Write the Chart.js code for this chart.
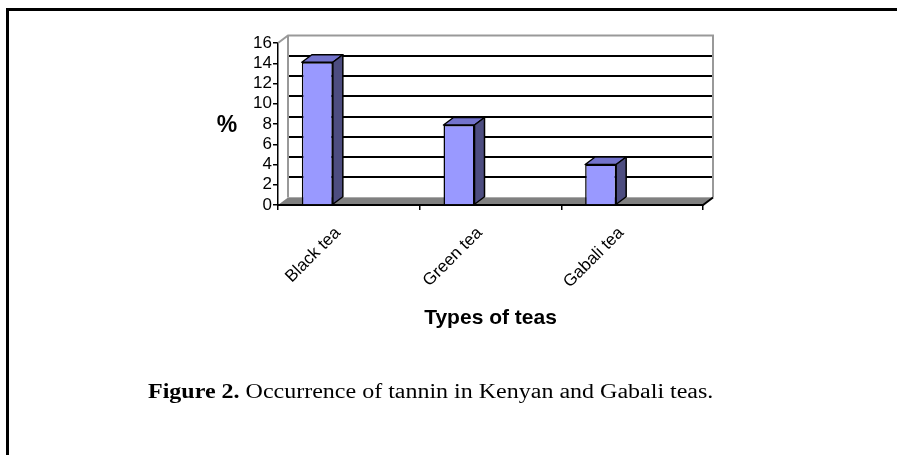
<!DOCTYPE html>
<html><head><meta charset="utf-8">
<script src="https://cdn.jsdelivr.net/npm/chart.js@4.4.0/dist/chart.umd.min.js"></script>
<style>
html,body{margin:0;padding:0;background:#fff;width:897px;height:455px;overflow:hidden;}
#frame{position:absolute;left:6px;top:8px;width:900px;height:460px;border-top:3px solid #000;border-left:3px solid #000;box-sizing:border-box;}
#wrap{position:absolute;left:0;top:0;width:897px;height:455px;}
#caption{position:absolute;left:148px;top:379px;font-family:"Liberation Serif","Times New Roman",serif;font-size:20px;color:#000;white-space:nowrap;transform:scaleX(1.2);transform-origin:0 0;line-height:24px;}
</style></head><body>
<div id="frame"></div>
<div id="wrap"><canvas id="c" width="897" height="455"></canvas></div>
<div id="caption"><b>Figure 2.</b> Occurrence of tannin in Kenyan and Gabali teas.</div>
<script>
const categories = ["Black tea", "Green tea", "Gabali tea"];
const tanninPercent = [14.1, 7.9, 4.0];
const yTicks = [0, 2, 4, 6, 8, 10, 12, 14, 16];
const xTitle = "Types of teas";
const yTitle = "%";

const FONT = '"Liberation Sans", Arial, sans-serif';
const DX = 10, DY = -7.5, BAR_SHIFT = -31.5;

function line(ctx, x0, y0, x1, y1) { ctx.beginPath(); ctx.moveTo(x0, y0); ctx.lineTo(x1, y1); ctx.stroke(); }

const threeD = {
  id: 'threeD',
  beforeDatasetsDraw(chart) {
    const ctx = chart.ctx, a = chart.chartArea, y = chart.scales.y;
    const bx0 = a.left + DX, bx1 = a.right + DX, by0 = a.top + DY, by1 = a.bottom + DY;
    ctx.save();
    ctx.fillStyle = '#fff';
    ctx.fillRect(bx0, by0, bx1 - bx0, by1 - by0);
    ctx.strokeStyle = '#000'; ctx.lineWidth = 2;
    yTicks.forEach(v => {
      if (v === yTicks[0] || v === yTicks[yTicks.length - 1]) return;
      const py = Math.round(y.getPixelForValue(v) + DY);
      line(ctx, bx0, py, bx1, py);
    });
    ctx.strokeStyle = '#999'; ctx.lineWidth = 2;
    ctx.beginPath();
    ctx.moveTo(a.left, a.top); ctx.lineTo(bx0, by0); ctx.lineTo(bx1, by0); ctx.lineTo(bx1, by1);
    ctx.stroke();
    line(ctx, bx0, by0, bx0, by1);
    ctx.fillStyle = '#808080';
    ctx.beginPath();
    ctx.moveTo(a.left, a.bottom); ctx.lineTo(bx0, by1); ctx.lineTo(bx1, by1); ctx.lineTo(a.right, a.bottom);
    ctx.closePath(); ctx.fill();
    ctx.strokeStyle = '#aaa'; ctx.lineWidth = 1;
    line(ctx, bx0, by1, bx1, by1);
    ctx.strokeStyle = '#000'; ctx.lineWidth = 2;
    ctx.beginPath();
    ctx.moveTo(a.left, a.bottom); ctx.lineTo(a.right, a.bottom); ctx.lineTo(bx1, by1);
    ctx.stroke();
    ctx.restore();
    ctx.save();
    ctx.translate(BAR_SHIFT, 0);
  },
  afterDatasetsDraw(chart) {
    const ctx = chart.ctx;
    const meta = chart.getDatasetMeta(0);
    ctx.lineWidth = 1.5; ctx.strokeStyle = '#000'; ctx.lineJoin = 'round';
    meta.data.forEach(bar => {
      const p = bar.getProps(['x', 'y', 'base', 'width'], true);
      const l = p.x - p.width / 2, r = p.x + p.width / 2;
      ctx.fillStyle = '#7373cc';
      ctx.beginPath();
      ctx.moveTo(l, p.y); ctx.lineTo(l + DX, p.y + DY); ctx.lineTo(r + DX, p.y + DY); ctx.lineTo(r, p.y);
      ctx.closePath(); ctx.fill(); ctx.stroke();
      ctx.fillStyle = '#4d4d80';
      ctx.beginPath();
      ctx.moveTo(r, p.y); ctx.lineTo(r + DX, p.y + DY); ctx.lineTo(r + DX, p.base + DY); ctx.lineTo(r, p.base);
      ctx.closePath(); ctx.fill(); ctx.stroke();
    });
    ctx.restore();
  },
  afterDraw(chart) {
    const ctx = chart.ctx;
    ctx.save();
    ctx.fillStyle = '#000';
    ctx.font = 'bold 23px ' + FONT;
    ctx.textAlign = 'center'; ctx.textBaseline = 'middle';
    ctx.fillText(yTitle, 227, 126);
    ctx.restore();
  }
};

new Chart(document.getElementById('c'), {
  type: 'bar',
  data: {
    labels: categories,
    datasets: [{
      data: tanninPercent,
      backgroundColor: '#9999ff',
      borderColor: '#000',
      borderWidth: 1.5,
      categoryPercentage: 1,
      barPercentage: 0.219,
      clip: false
    }]
  },
  options: {
    responsive: false,
    animation: false,
    devicePixelRatio: 1,
    layout: { padding: { left: 200, right: 194, top: 43, bottom: 120 } },
    plugins: { legend: { display: false }, tooltip: { enabled: false } },
    scales: {
      x: {
        grid: { display: true, drawOnChartArea: false, drawTicks: true, tickLength: 5, color: '#000', lineWidth: 1.5, offset: true },
        border: { display: false },
        ticks: { color: '#000', font: { family: FONT, size: 17 }, minRotation: 45, maxRotation: 45, padding: 13, labelOffset: -11, autoSkip: false },
        title: { display: true, text: xTitle, color: '#000', font: { family: FONT, size: 21, weight: 'bold' }, padding: { top: 4, bottom: 4 } },
        afterFit(s) { s.height = 130; }
      },
      y: {
        min: 0, max: 16,
        afterBuildTicks(s) { s.ticks = yTicks.map(v => ({ value: v })); },
        ticks: { color: '#000', font: { family: FONT, size: 17 }, padding: 1, autoSkip: false },
        grid: { drawOnChartArea: false, drawTicks: true, tickLength: 5, color: '#000', lineWidth: 1.5 },
        border: { display: true, color: '#000', width: 1.5 },
        afterFit(s) { s.width = 78; }
      }
    }
  },
  plugins: [threeD]
});
</script>
</body></html>
